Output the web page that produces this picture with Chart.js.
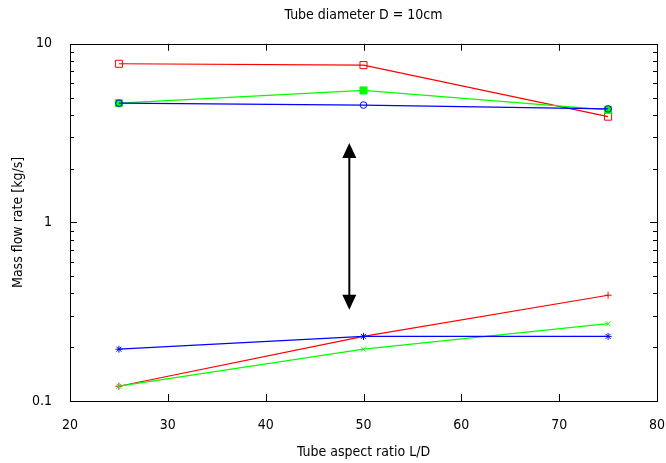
<!DOCTYPE html>
<html>
<head>
<meta charset="utf-8">
<script src="https://cdn.jsdelivr.net/npm/chart.js@4/dist/chart.umd.min.js"></script>
<style>
  body { margin: 0; background: #fff; }
</style>
</head>
<body>
<canvas id="canvas" width="666" height="463"></canvas>
<script>
const aspectRatios = [25, 50, 75];

const redTop = [7.73, 7.60, 3.91];
const greenTop = [4.65, 5.48, 4.27];
const blueTop = [4.65, 4.54, 4.32];
const redBottom = [0.121, 0.230, 0.391];
const greenBottom = [0.121, 0.195, 0.271];
const blueBottom = [0.195, 0.230, 0.230];

const xTickValues = [20, 30, 40, 50, 60, 70, 80];
const yMajorTicks = [0.1, 1, 10];
const yMinorTicks = [0.2, 0.3, 0.4, 0.5, 0.6, 0.7, 0.8, 0.9, 2, 3, 4, 5, 6, 7, 8, 9];

// double arrow between the two groups
const arrowX = 48.55;
const arrowTop = 2.78;
const arrowBottom = 0.324;

const FONT = 'DejaVu Sans Condensed, DejaVu Sans, sans-serif';

function series(values, color, style, fill, radius) {
  return {
    data: aspectRatios.map((x, i) => ({x, y: values[i]})),
    showLine: true,
    borderColor: color,
    borderWidth: 1.2,
    pointStyle: style,
    pointRadius: radius,
    pointBorderWidth: 1,
    pointBorderColor: color,
    pointBackgroundColor: fill ? color : 'rgba(0,0,0,0)',
  };
}

const datasets = [
  series(redTop, '#ff0000', 'rect', false, 5),
  series(greenTop, '#00ff00', 'rect', true, 5),
  series(blueTop, '#0000ff', 'circle', false, 3.3),
  series(redBottom, '#ff0000', 'cross', false, 3.5),
  series(greenBottom, '#00ff00', 'crossRot', false, 3.5),
  series(blueBottom, '#0000ff', 'star', false, 3.5),
];
// later series drawn on top, like gnuplot
datasets.forEach((d, i) => { d.order = datasets.length - i; });

const framePlugin = {
  id: 'frame',
  afterDatasetsDraw(chart) {
    const {ctx, chartArea: a, scales: {x, y}} = chart;
    ctx.save();
    ctx.strokeStyle = '#000';
    ctx.lineWidth = 1;
    ctx.beginPath();
    for (const v of xTickValues.slice(1, -1)) {
      const px = Math.round(x.getPixelForValue(v)) + 0.5;
      ctx.moveTo(px, a.bottom); ctx.lineTo(px, a.bottom - 7);
      ctx.moveTo(px, a.top); ctx.lineTo(px, a.top + 7);
    }
    for (const v of yMajorTicks) {
      const py = Math.round(y.getPixelForValue(v)) + 0.5;
      ctx.moveTo(a.left, py); ctx.lineTo(a.left + 7, py);
      ctx.moveTo(a.right, py); ctx.lineTo(a.right - 7, py);
    }
    for (const v of yMinorTicks) {
      const py = Math.round(y.getPixelForValue(v)) + 0.5;
      ctx.moveTo(a.left, py); ctx.lineTo(a.left + 4, py);
      ctx.moveTo(a.right, py); ctx.lineTo(a.right - 4, py);
    }
    ctx.stroke();
    ctx.strokeRect(Math.round(a.left) + 0.5, Math.round(a.top) + 0.5,
      Math.round(a.right - a.left), Math.round(a.bottom - a.top));

    // arrow
    const ax = x.getPixelForValue(arrowX);
    const y1 = y.getPixelForValue(arrowTop);
    const y2 = y.getPixelForValue(arrowBottom);
    const head = 15, half = 7;
    ctx.lineWidth = 2;
    ctx.beginPath();
    ctx.moveTo(ax, y1 + head - 1);
    ctx.lineTo(ax, y2 - head + 1);
    ctx.stroke();
    ctx.fillStyle = '#000';
    ctx.beginPath();
    ctx.moveTo(ax, y1);
    ctx.lineTo(ax - half, y1 + head);
    ctx.lineTo(ax + half, y1 + head);
    ctx.closePath();
    ctx.moveTo(ax, y2);
    ctx.lineTo(ax - half, y2 - head);
    ctx.lineTo(ax + half, y2 - head);
    ctx.closePath();
    ctx.fill();
    ctx.restore();
  }
};

document.addEventListener('DOMContentLoaded', () => {
  const context = document.getElementById('canvas').getContext('2d');

  const config = {
    type: 'scatter',
    data: {datasets},
    options: {
      responsive: false,
      devicePixelRatio: 1,
      animation: false,
      layout: {padding: {left: 0, right: 9, top: 0, bottom: 0}},
      plugins: {
        legend: {display: false},
        tooltip: {enabled: false},
        title: {
          display: true,
          text: 'Tube diameter D = 10cm',
          fullSize: false,
          color: '#000',
          font: {family: FONT, size: 14, weight: 'normal'},
          padding: {top: 7, bottom: 20},
        },
      },
      scales: {
        x: {
          type: 'linear',
          min: 20,
          max: 80,
          grid: {display: false},
          border: {display: false},
          ticks: {
            stepSize: 10,
            color: '#000',
            padding: 8,
            maxRotation: 0,
            font: {family: FONT, size: 14},
          },
          title: {
            display: true,
            text: 'Tube aspect ratio L/D',
            color: '#000',
            font: {family: FONT, size: 14},
            padding: {top: 4, bottom: 2},
          },
          afterBuildTicks: scale => {
            scale.ticks = xTickValues.map(value => ({value}));
          },
          afterFit: scale => {
            scale.height = 62;
            scale.paddingLeft = 0;
            scale.paddingRight = 0;
          },
        },
        y: {
          type: 'logarithmic',
          min: 0.1,
          max: 10,
          grid: {display: false},
          border: {display: false},
          ticks: {
            color: '#000',
            padding: 10,
            font: {family: FONT, size: 14},
            callback: value => String(value),
          },
          title: {
            display: true,
            text: 'Mass flow rate [kg/s]',
            color: '#000',
            font: {family: FONT, size: 14},
            padding: {top: 10, bottom: 0},
          },
          afterBuildTicks: scale => {
            scale.ticks = yMajorTicks.map(value => ({value}));
          },
          afterFit: scale => {
            scale.width = 70;
            scale.paddingTop = 0;
            scale.paddingBottom = 0;
          },
        },
      },
    },
    plugins: [framePlugin],
  };

  new Chart(context, config);
});
</script>
</body>
</html>
